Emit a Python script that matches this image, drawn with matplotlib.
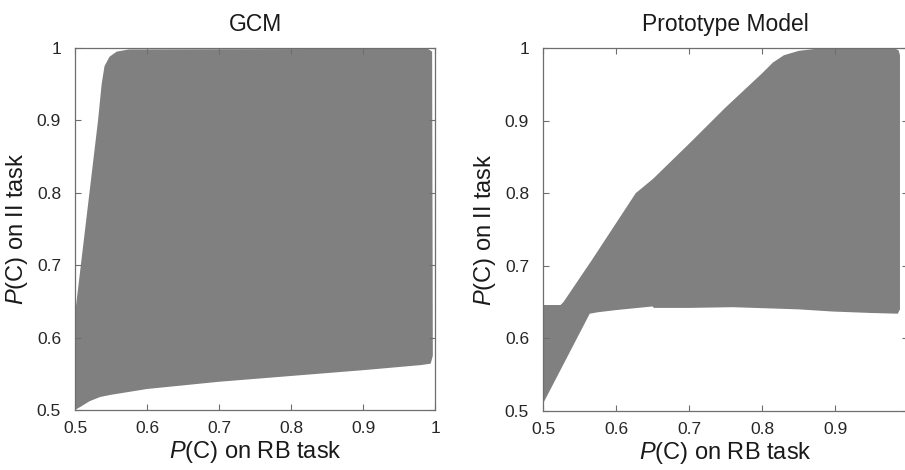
import matplotlib.pyplot as plt

plt.rcParams['font.family'] = ['Liberation Sans', 'DejaVu Sans']
plt.rcParams['mathtext.fontset'] = 'custom'
plt.rcParams['mathtext.it'] = 'Liberation Sans:italic'
plt.rcParams['mathtext.rm'] = 'Liberation Sans'

# GCM region boundary (P(C) RB task, P(C) II task)
gcm_x = [0.5, 0.5, 0.532, 0.537, 0.541, 0.548, 0.558, 0.575, 0.99, 0.996,
         0.997, 0.994, 0.98, 0.9, 0.8, 0.7, 0.6, 0.55, 0.535, 0.52, 0.507]
gcm_y = [0.5, 0.632, 0.9, 0.95, 0.975, 0.988, 0.995, 0.998, 0.999, 0.995,
         0.575, 0.564, 0.562, 0.555, 0.547, 0.539, 0.529, 0.521, 0.518, 0.512, 0.504]

# Prototype model region boundary
proto_x = [0.5, 0.5, 0.524, 0.528, 0.567, 0.627, 0.651, 0.7, 0.75, 0.8, 0.815,
           0.83, 0.85, 0.875, 0.98, 0.987, 0.989, 0.989, 0.986, 0.95, 0.897,
           0.85, 0.76, 0.7, 0.652, 0.65, 0.6, 0.575, 0.564]
proto_y = [0.51, 0.646, 0.646, 0.65, 0.708, 0.80, 0.82, 0.868, 0.918, 0.965, 0.98,
           0.99, 0.996, 0.999, 1.0, 0.997, 0.99, 0.64, 0.634, 0.635, 0.637,
           0.64, 0.643, 0.642, 0.642, 0.644, 0.639, 0.636, 0.634]

ticks = [0.5, 0.6, 0.7, 0.8, 0.9, 1.0]
tick_labels = ['0.5', '0.6', '0.7', '0.8', '0.9', '1']

fig = plt.figure(figsize=(9.05, 4.7), dpi=100)
ax1 = fig.add_axes([75 / 905, 60 / 470, 360 / 905, 362 / 470])
ax2 = fig.add_axes([543 / 905, 59 / 470, 365 / 905, 363 / 470])

for ax, xs, ys, title in [(ax1, gcm_x, gcm_y, 'GCM'), (ax2, proto_x, proto_y, 'Prototype Model')]:
    ax.fill(xs, ys, color='#808080', lw=0)
    ax.set_xlim(0.5, 1)
    ax.set_ylim(0.5, 1)
    ax.set_xticks(ticks)
    ax.set_yticks(ticks)
    ax.set_yticklabels(tick_labels)
    ax.tick_params(direction='in', length=4, width=0.8, color='#6e6e6e',
                   labelsize=12.5, labelcolor='#262626',
                   top=True, right=True)
    ax.tick_params(axis='y', pad=10)
    ax.tick_params(axis='x', pad=8)
    for s in ax.spines.values():
        s.set_color('#6e6e6e')
        s.set_linewidth(0.9)
    ax.set_title(title, fontsize=16.5, pad=12, color='#1a1a1a')
    ax.set_xlabel('$\\it{P}$(C) on RB task', fontsize=17, labelpad=2, color='#1a1a1a')
    ax.set_ylabel('$\\it{P}$(C) on II task', fontsize=17, labelpad=5, color='#1a1a1a')

ax1.set_xticklabels(tick_labels)
# the "1" of the right panel falls off the picture edge in the reference
ax2.set_xticklabels(tick_labels[:-1] + [''])

plt.savefig('out.png', dpi=100)
